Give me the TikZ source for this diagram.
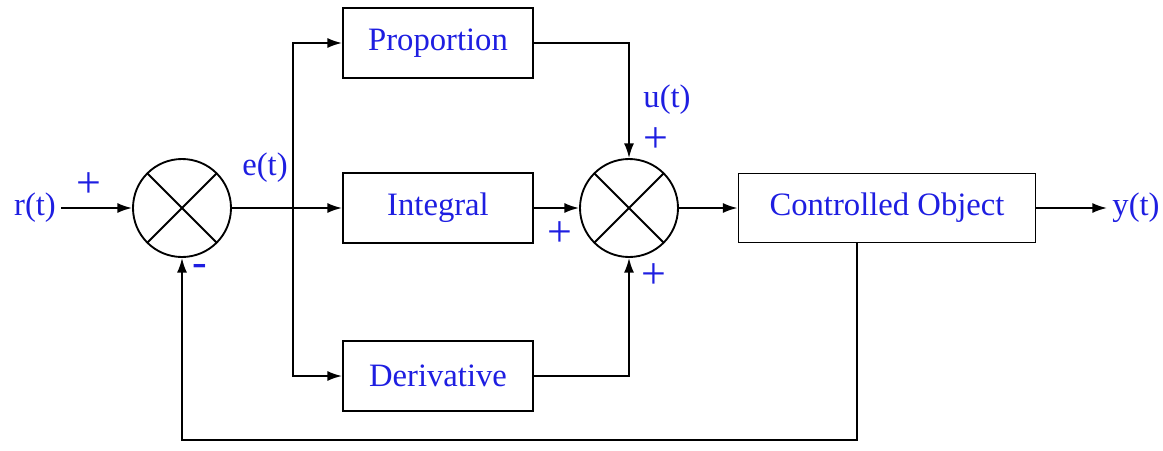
\documentclass[tikz,border=0pt]{standalone}
\usepackage{fontspec}
\setmainfont{Liberation Serif}
\usetikzlibrary{arrows.meta}
\definecolor{sigblue}{RGB}{30,30,225}

\begin{document}
\begin{tikzpicture}[x=.75pt,y=-.75pt,line width=1.4pt,
  >={Latex[length=11pt,width=7.5pt]},
  lbl/.style={text=sigblue,font=\fontsize{24.5}{28}\selectfont},
  sgn/.style={text=sigblue,font=\fontsize{33}{36}\selectfont,inner sep=0pt},
  blk/.style={draw,lbl,minimum width=142.5pt,minimum height=52.5pt,inner sep=0pt},
  sumnode/.style={draw,circle,minimum size=73.5pt,inner sep=0pt,
    path picture={\draw (path picture bounding box.north west) -- (path picture bounding box.south east)
      (path picture bounding box.north east) -- (path picture bounding box.south west);}}]
  \useasboundingbox (0,0) rectangle (1163,450);

  \node[sumnode] (sum1) at (182,208) {};
  \node[blk] (prop) at (438,43) {Proportion};
  \node[blk] (integ) at (438,208) {Integral};
  \node[blk] (deriv) at (438,376) {Derivative};
  \node[sumnode] (sum2) at (629,208) {};
  \node[blk,minimum width=222.75pt,minimum height=51.75pt] (plant) at (887,208) {Controlled Object};

  \node[lbl] (rin) at (35,208) {r(t)};
  \node[lbl] (yout) at (1136,208) {y(t)};
  \node[lbl] (eout) at (265,168) {e(t)};
  \node[lbl] (uin) at (667,100) {u(t)};
  \node[sgn] (sgnr) at (89,185) {+};
  \node[sgn] (sgnfb) at (200,270) {-};
  \node[sgn] (sgnp) at (656,140) {+};
  \node[sgn] (sgni) at (560,234) {+};
  \node[sgn] (sgnd) at (654,276) {+};

  \coordinate (br) at (293,208);
  \coordinate (fb) at (857,440);

  \draw[->] (rin.east) -- (sum1.west);
  \draw[->] (sum1.east) -- (integ.west);
  \draw[->] (br) |- (prop.west);
  \draw[->] (br) |- (deriv.west);
  \draw[->] (prop.east) -| (sum2.north);
  \draw[->] (integ.east) -- (sum2.west);
  \draw[->] (deriv.east) -| (sum2.south);
  \draw[->] (sum2.east) -- (plant.west);
  \draw[->] (plant.east) -- (yout.west);
  \draw[->] (plant.south -| fb) -- (fb) -| (sum1.south);
\end{tikzpicture}
\end{document}
